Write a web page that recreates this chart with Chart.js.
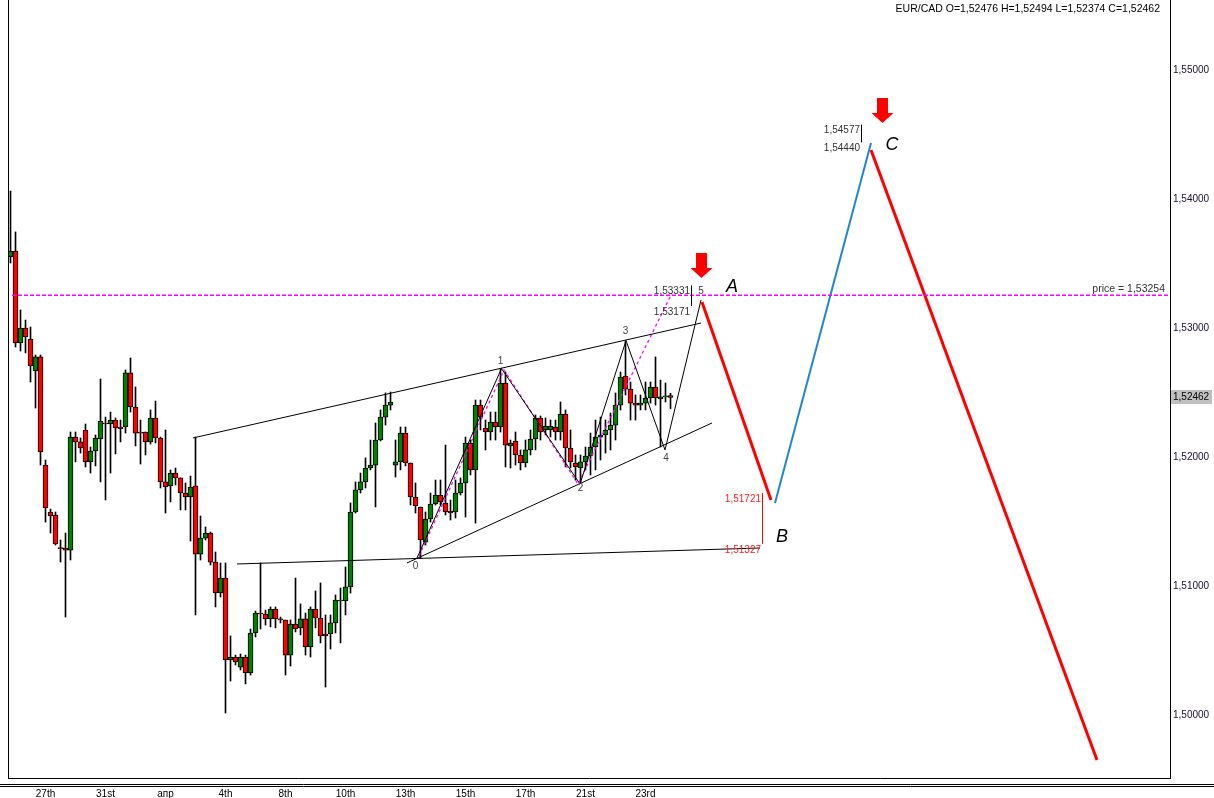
<!DOCTYPE html>
<html>
<head>
<meta charset="utf-8">
<script src="https://cdn.jsdelivr.net/npm/chart.js@4.4.1/dist/chart.umd.min.js"></script>
<style>
  html, body { margin: 0; padding: 0; background: #fff; }
  #wrap { width: 1214px; height: 798px; position: relative; }
</style>
</head>
<body>
<div id="wrap"><canvas id="chart"></canvas></div>
<script>
// EUR/CAD H4 candles
const candleOpen = [
  1.53551, 1.53597, 1.52884, 1.53000, 1.52915, 1.52667, 1.52776, 1.51938, 1.51574, 1.51551,
  1.51295, 1.51295, 1.51279, 1.52155, 1.52117, 1.52210, 1.51962, 1.52047, 1.52140, 1.52264,
  1.52256, 1.52287, 1.52233, 1.52233, 1.52652, 1.52388, 1.52194, 1.52194, 1.52117, 1.52303,
  1.52148, 1.51807, 1.51776, 1.51876, 1.51838, 1.51721, 1.51690, 1.51776, 1.51248, 1.51372,
  1.51411, 1.51186, 1.50946, 1.51062, 1.50427, 1.50450, 1.50372, 1.50450, 1.50326, 1.50636,
  1.50791, 1.50783, 1.50745, 1.50822, 1.50745, 1.50737, 1.50465, 1.50706, 1.50675, 1.50745,
  1.50528, 1.50822, 1.50752, 1.50628, 1.50628, 1.50714, 1.50884, 1.50884, 1.50993, 1.51574,
  1.51745, 1.51807, 1.51915, 1.51938, 1.52132, 1.52310, 1.52403, 1.51938, 1.51962, 1.52186,
  1.51954, 1.51690, 1.51613, 1.51341, 1.51520, 1.51636, 1.51706, 1.51644, 1.51582, 1.51574,
  1.51721, 1.51799, 1.52109, 1.51900, 1.52403, 1.52225, 1.52194, 1.52272, 1.52233, 1.52574,
  1.52086, 1.52124, 1.52016, 1.51954, 1.52055, 1.52140, 1.52303, 1.52210, 1.52210, 1.52233,
  1.52194, 1.52334, 1.52070, 1.51954, 1.51915, 1.51962, 1.52008, 1.52078, 1.52155, 1.52171,
  1.52210, 1.52248, 1.52403, 1.52628, 1.52527, 1.52418, 1.52403, 1.52418, 1.52458, 1.52543,
  1.52450, 1.52466, 1.52476
];
const candleHigh = [
  1.54062, 1.53745, 1.53140, 1.53062, 1.53008, 1.52791, 1.52791, 1.51977, 1.51597, 1.51574,
  1.51357, 1.51411, 1.52194, 1.52194, 1.52148, 1.52256, 1.52078, 1.52171, 1.52605, 1.52310,
  1.52349, 1.52303, 1.52287, 1.52675, 1.52768, 1.52543, 1.52287, 1.52194, 1.52365, 1.52434,
  1.52155, 1.52210, 1.51900, 1.51915, 1.51838, 1.51799, 1.51853, 1.52155, 1.51543, 1.51458,
  1.51419, 1.51264, 1.51179, 1.51179, 1.50613, 1.50465, 1.50473, 1.50465, 1.50667, 1.50806,
  1.51179, 1.50814, 1.50838, 1.50838, 1.50760, 1.50737, 1.50737, 1.51062, 1.50861, 1.50791,
  1.50838, 1.50962, 1.51024, 1.50776, 1.50776, 1.50931, 1.50985, 1.51148, 1.51644, 1.51807,
  1.51876, 1.51993, 1.52132, 1.52264, 1.52365, 1.52497, 1.52504, 1.52132, 1.52233, 1.52233,
  1.51954, 1.51799, 1.51613, 1.51574, 1.51721, 1.51822, 1.51822, 1.52093, 1.51667, 1.51822,
  1.51838, 1.52155, 1.52132, 1.52442, 1.52442, 1.52287, 1.52349, 1.52349, 1.52683, 1.52659,
  1.52132, 1.52194, 1.52055, 1.52132, 1.52210, 1.52326, 1.52318, 1.52303, 1.52287, 1.52287,
  1.52427, 1.52365, 1.52210, 1.52016, 1.52016, 1.52078, 1.52186, 1.52287, 1.52310, 1.52287,
  1.52341, 1.52497, 1.52659, 1.52900, 1.52582, 1.52481, 1.52481, 1.52582, 1.52582, 1.52776,
  1.52597, 1.52574, 1.52494
];
const candleLow = [
  1.53504, 1.52853, 1.52822, 1.52807, 1.52582, 1.52380, 1.51938, 1.51496, 1.51411, 1.51318,
  1.51186, 1.50760, 1.51202, 1.51962, 1.52031, 1.51923, 1.51876, 1.51931, 1.51807, 1.51667,
  1.51876, 1.52024, 1.52117, 1.52186, 1.52349, 1.52086, 1.51946, 1.52016, 1.52101, 1.52109,
  1.51760, 1.51566, 1.51652, 1.51783, 1.51590, 1.51590, 1.51349, 1.50776, 1.51202, 1.51357,
  1.51163, 1.50838, 1.50915, 1.50016, 1.50264, 1.50388, 1.50349, 1.50241, 1.50310, 1.50605,
  1.50667, 1.50698, 1.50683, 1.50675, 1.50714, 1.50310, 1.50380, 1.50644, 1.50621, 1.50465,
  1.50450, 1.50675, 1.50559, 1.50217, 1.50512, 1.50636, 1.50559, 1.50776, 1.50946, 1.51566,
  1.51721, 1.51760, 1.51900, 1.51613, 1.52125, 1.52248, 1.52365, 1.51845, 1.51900, 1.51931,
  1.51628, 1.51566, 1.51217, 1.51318, 1.51496, 1.51628, 1.51628, 1.51551, 1.51512, 1.51527,
  1.51706, 1.51535, 1.51861, 1.51488, 1.52210, 1.52055, 1.52132, 1.52132, 1.52194, 1.51923,
  1.51915, 1.51938, 1.51900, 1.51923, 1.52016, 1.52055, 1.52132, 1.52171, 1.52155, 1.52132,
  1.52132, 1.51923, 1.51915, 1.51822, 1.51799, 1.51900, 1.51861, 1.51900, 1.51977, 1.52031,
  1.52055, 1.52132, 1.52365, 1.52481, 1.52287, 1.52287, 1.52365, 1.52365, 1.52418, 1.52403,
  1.52078, 1.52427, 1.52374
];
const candleClose = [
  1.53597, 1.52884, 1.53000, 1.52931, 1.52706, 1.52776, 1.52039, 1.51605, 1.51543, 1.51326,
  1.51290, 1.51279, 1.52155, 1.52117, 1.52070, 1.51962, 1.52047, 1.52148, 1.52279, 1.52256,
  1.52287, 1.52225, 1.52220, 1.52652, 1.52388, 1.52186, 1.52186, 1.52117, 1.52303, 1.52148,
  1.51807, 1.51768, 1.51876, 1.51838, 1.51721, 1.51690, 1.51768, 1.51248, 1.51372, 1.51411,
  1.51186, 1.50946, 1.51062, 1.50427, 1.50450, 1.50411, 1.50450, 1.50326, 1.50636, 1.50791,
  1.50783, 1.50745, 1.50822, 1.50745, 1.50737, 1.50465, 1.50706, 1.50667, 1.50745, 1.50528,
  1.50822, 1.50752, 1.50613, 1.50613, 1.50714, 1.50892, 1.50892, 1.50993, 1.51574, 1.51745,
  1.51807, 1.51915, 1.51938, 1.52132, 1.52310, 1.52403, 1.52427, 1.51962, 1.52186, 1.51954,
  1.51690, 1.51621, 1.51357, 1.51520, 1.51636, 1.51706, 1.51652, 1.51574, 1.51566, 1.51721,
  1.51799, 1.52109, 1.51900, 1.52403, 1.52310, 1.52194, 1.52272, 1.52233, 1.52574, 1.52093,
  1.52109, 1.52016, 1.51954, 1.52055, 1.52140, 1.52303, 1.52194, 1.52241, 1.52241, 1.52194,
  1.52334, 1.52070, 1.51962, 1.51923, 1.51962, 1.52008, 1.52078, 1.52155, 1.52171, 1.52210,
  1.52248, 1.52403, 1.52620, 1.52527, 1.52418, 1.52403, 1.52418, 1.52458, 1.52543, 1.52458,
  1.52466, 1.52473, 1.52462
];

// axes
const priceTicks = [1.50, 1.51, 1.52, 1.53, 1.54, 1.55];
const dateTickIdx = [7, 19, 31, 43, 55, 67, 79, 91, 103, 115, 127];
const dateLabels = ['27th', '31st', 'апр', '4th', '8th', '10th', '13th', '15th', '17th', '21st', '23rd'];

// wave markup (bar index, price)
const waveNames = ['0', '1', '2', '3', '4', '5'];
const waveIdx = [81.3, 98.2, 113.9, 123.1, 130.9, 138.1];
const wavePrice = [1.51217, 1.52686, 1.51791, 1.52903, 1.52055, 1.53217];
const waveLabelIdx = [81.0, 98.0, 114.0, 123.0, 131.1, 138.1];
const waveLabelPrice = [1.51150, 1.52745, 1.51758, 1.52977, 1.51990, 1.53282];

const upperLineIdx = [36.5, 138.1];
const upperLinePrice = [1.52148, 1.53039];
const lowerLineIdx = [79.3, 140.3];
const lowerLinePrice = [1.51179, 1.52264];
const baseLineIdx = [45.3, 149.9];
const baseLinePrice = [1.51171, 1.51295];

const fibPathIdx = [81.7, 98.7, 113.5, 132.3];
const fibPathPrice = [1.51233, 1.52675, 1.51791, 1.53272];

const priceLevel = 1.53254;
const priceLevelIdx = [0.3, 231.8];

// projection A-B-C
const legAIdx = [138.3, 152.1];
const legAPrice = [1.53202, 1.51667];
const legBIdx = [152.9, 172.1];
const legBPrice = [1.51644, 1.54434];
const legCIdx = [172.1, 217.3];
const legCPrice = [1.54380, 1.49652];

const letterNames = ['A', 'B', 'C'];
const letterIdx = [144.3, 154.3, 176.3];
const letterPrice = [1.53318, 1.51380, 1.54419];

// price marks: vertical bar with the two levels written next to it
const markIdx = [136.1, 170.1, 150.3];
const markTop = [1.53331, 1.54577, 1.51721];
const markBottom = [1.53171, 1.54440, 1.51327];
const markColors = ['#000', '#000', '#ff0000'];
const markTextColors = ['#333', '#333', '#ff2020'];

const arrowIdx = [138.2, 174.2];
const arrowTip = [1.53388, 1.54592];

const lastQuote = { o: 1.52476, h: 1.52494, l: 1.52374, c: 1.52462 };

/* ── helpers ───────────────────────────────────────────── */
const fmt = v => v.toFixed(5).replace('.', ',');
const pts = (xs, ys) => xs.map((x, k) => ({ x: x, y: ys[k] }));
const FONT = '"Liberation Sans", Arial, sans-serif';

const idx = candleOpen.map((_, i) => i);
const bodyColors = idx.map(i => candleClose[i] >= candleOpen[i] ? '#008000' : '#ff0000');

function lineSet(data, color, width, dash) {
  return {
    type: 'line', data: data, borderColor: color, borderWidth: width,
    borderDash: dash || [], pointRadius: 0, fill: false, tension: 0, order: 1
  };
}

/* ── overlay: texts, arrows, frame ─────────────────────── */
const overlay = {
  id: 'overlay',
  afterDraw(chart) {
    const { ctx, chartArea: ca, scales: { x, y } } = chart;
    ctx.save();

    // frame
    ctx.strokeStyle = '#000';
    ctx.lineWidth = 1;
    ctx.beginPath();
    ctx.moveTo(ca.left + 0.5, ca.top);
    ctx.lineTo(ca.left + 0.5, ca.bottom);
    ctx.moveTo(0, ca.bottom + 6.5);
    ctx.lineTo(chart.width, ca.bottom + 6.5);
    ctx.moveTo(0, ca.bottom + 8.5);
    ctx.lineTo(chart.width, ca.bottom + 8.5);
    ctx.stroke();

    // mark bars + level texts
    ctx.font = '10px ' + FONT;
    ctx.textAlign = 'right';
    ctx.textBaseline = 'top';
    markIdx.forEach((m, k) => {
      const mx = Math.round(x.getPixelForValue(m)) + 0.5;
      const yt = y.getPixelForValue(markTop[k]);
      const yb = y.getPixelForValue(markBottom[k]);
      ctx.strokeStyle = markColors[k];
      ctx.beginPath();
      ctx.moveTo(mx, yt);
      ctx.lineTo(mx, yb);
      ctx.stroke();
      ctx.fillStyle = markTextColors[k];
      ctx.fillText(fmt(markTop[k]), mx - 1.5, yt + 1);
      ctx.fillText(fmt(markBottom[k]), mx - 1.5, yb + 1);
    });

    // wave numbers
    ctx.textAlign = 'center';
    ctx.textBaseline = 'middle';
    ctx.fillStyle = '#444';
    waveNames.forEach((n, k) => {
      ctx.fillText(n, x.getPixelForValue(waveLabelIdx[k]), y.getPixelForValue(waveLabelPrice[k]));
    });

    // A B C
    ctx.font = 'italic 18px ' + FONT;
    ctx.fillStyle = '#000';
    letterNames.forEach((n, k) => {
      ctx.fillText(n, x.getPixelForValue(letterIdx[k]), y.getPixelForValue(letterPrice[k]));
    });

    // red arrows
    ctx.fillStyle = '#ff0000';
    arrowIdx.forEach((a, k) => {
      const cx = Math.round(x.getPixelForValue(a)) + 0.5;
      const ty = Math.round(y.getPixelForValue(arrowTip[k]));
      ctx.beginPath();
      ctx.moveTo(cx - 5.5, ty - 25);
      ctx.lineTo(cx + 5.5, ty - 25);
      ctx.lineTo(cx + 5.5, ty - 10);
      ctx.lineTo(cx + 11, ty - 10);
      ctx.lineTo(cx, ty);
      ctx.lineTo(cx - 11, ty - 10);
      ctx.lineTo(cx - 5.5, ty - 10);
      ctx.closePath();
      ctx.fill();
    });

    // level caption
    ctx.font = '10.5px ' + FONT;
    ctx.textAlign = 'right';
    ctx.textBaseline = 'bottom';
    ctx.fillStyle = '#333';
    ctx.fillText('price = ' + fmt(priceLevel), ca.right - 5, y.getPixelForValue(priceLevel) - 1);

    // header quote
    ctx.textBaseline = 'top';
    ctx.fillStyle = '#000';
    ctx.fillText('EUR/CAD O=' + fmt(lastQuote.o) + ' H=' + fmt(lastQuote.h) +
      ' L=' + fmt(lastQuote.l) + ' C=' + fmt(lastQuote.c), ca.right - 10, 4);

    // last price tag on the axis
    const py = y.getPixelForValue(lastQuote.c);
    ctx.fillStyle = '#c0c0c0';
    ctx.fillRect(ca.right + 1, Math.round(py) - 7, 41, 14);
    ctx.font = '10px ' + FONT;
    ctx.textAlign = 'left';
    ctx.textBaseline = 'middle';
    ctx.fillStyle = '#000';
    ctx.fillText(fmt(lastQuote.c), ca.right + 3, py);

    ctx.restore();
  }
};

/* ── chart ─────────────────────────────────────────────── */
new Chart(document.getElementById('chart'), {
  type: 'bar',
  data: {
    datasets: [
      {
        type: 'bar', data: idx.map(i => ({ x: i, y: [candleOpen[i], candleClose[i]] })),
        backgroundColor: bodyColors, borderColor: '#000', borderWidth: 1, borderSkipped: false,
        barThickness: 5, minBarLength: 1, grouped: false, order: 2
      },
      {
        type: 'bar', data: idx.map(i => ({ x: i, y: [candleLow[i], candleHigh[i]] })),
        backgroundColor: '#000', borderWidth: 0, barThickness: 1, grouped: false, order: 3
      },
      lineSet(pts(upperLineIdx, upperLinePrice), '#000', 1),
      lineSet(pts(lowerLineIdx, lowerLinePrice), '#000', 1),
      lineSet(pts(baseLineIdx, baseLinePrice), '#000', 1),
      lineSet(pts(waveIdx, wavePrice), '#000', 1),
      lineSet(pts(fibPathIdx, fibPathPrice), '#ff00ff', 1.3, [3, 3]),
      lineSet(pts(priceLevelIdx, [priceLevel, priceLevel]), '#ff00ff', 1.6, [4, 2]),
      lineSet(pts(legAIdx, legAPrice), '#ff0000', 3),
      lineSet(pts(legBIdx, legBPrice), '#1f86c9', 2),
      lineSet(pts(legCIdx, legCPrice), '#ff0000', 3)
    ]
  },
  options: {
    responsive: true, maintainAspectRatio: false, animation: false, devicePixelRatio: 1,
    layout: { padding: { left: 8, top: 0, right: 0, bottom: 0 } },
    plugins: { legend: { display: false }, tooltip: { enabled: false } },
    scales: {
      x: {
        type: 'linear', min: -0.5, max: 231.9, offset: false,
        grid: { display: false, drawTicks: false },
        border: { display: true, color: '#000', width: 1 },
        afterBuildTicks: s => { s.ticks = dateTickIdx.map(v => ({ value: v })); },
        afterFit: s => { s.height = 20; s.paddingLeft = 0; s.paddingRight = 0; },
        ticks: {
          autoSkip: false, maxRotation: 0, padding: 10, color: '#000',
          font: { family: FONT, size: 10 },
          callback: v => dateLabels[dateTickIdx.indexOf(v)]
        }
      },
      y: {
        type: 'linear', position: 'right', min: 1.49512, max: 1.55543, beginAtZero: false,
        grid: { display: false, drawTicks: false },
        border: { display: true, color: '#000', width: 1 },
        afterBuildTicks: s => { s.ticks = priceTicks.map(v => ({ value: v })); },
        afterFit: s => { s.width = 44; s.paddingTop = 0; s.paddingBottom = 0; },
        ticks: {
          padding: 3, color: '#1a1030', font: { family: FONT, size: 10 },
          callback: v => fmt(v)
        }
      }
    }
  },
  plugins: [overlay]
});
</script>
</body>
</html>
